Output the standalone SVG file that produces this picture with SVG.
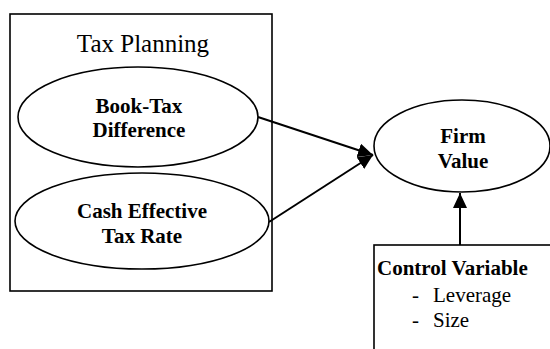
<svg xmlns="http://www.w3.org/2000/svg" width="550" height="349" viewBox="0 0 550 349">
<style>
.shape{fill:#fff;stroke:#000;stroke-width:1.6}
.t{font-family:"Liberation Serif","Times New Roman",serif;fill:#000}
.b{font-weight:bold;font-size:21px}
.r{font-size:21px}
.conn{stroke:#000;stroke-width:2;fill:none}
</style>
<defs>
<marker id="ah" viewBox="0 0 15 14" refX="15" refY="7" markerWidth="15" markerHeight="14" markerUnits="userSpaceOnUse" orient="auto">
<path d="M0,0 L15,7 L0,14 Z" fill="#000"/>
</marker>
</defs>
<rect width="550" height="349" fill="#fff"/>
<g id="tax-planning">
<rect class="shape" x="10" y="14" width="262" height="277"/>
<text class="t" x="143" y="52" font-size="25" text-anchor="middle">Tax Planning</text>
</g>
<g id="book-tax">
<ellipse class="shape" cx="138" cy="117" rx="120" ry="50"/>
<text class="t b" x="139" y="113" text-anchor="middle">Book-Tax</text>
<text class="t b" x="139" y="137" text-anchor="middle">Difference</text>
</g>
<g id="cash-etr">
<ellipse class="shape" cx="142" cy="221" rx="127" ry="48"/>
<text class="t b" x="142" y="218" text-anchor="middle">Cash Effective</text>
<text class="t b" x="142" y="243" text-anchor="middle">Tax Rate</text>
</g>
<g id="firm-value">
<ellipse class="shape" cx="462" cy="146" rx="88" ry="46"/>
<text class="t b" x="463" y="143" text-anchor="middle">Firm</text>
<text class="t b" x="463" y="168" text-anchor="middle">Value</text>
</g>
<g id="control-variable">
<rect class="shape" x="374" y="245" width="190" height="120"/>
<text class="t b" x="377" y="275">Control Variable</text>
<text class="t r" x="412" y="302">-</text>
<text class="t r" x="433" y="302">Leverage</text>
<text class="t r" x="412" y="327">-</text>
<text class="t r" x="433" y="327">Size</text>
</g>
<g id="connectors">
<line class="conn" x1="258" y1="117" x2="373" y2="155" marker-end="url(#ah)"/>
<line class="conn" x1="269" y1="222" x2="373" y2="155" marker-end="url(#ah)"/>
<line class="conn" x1="460" y1="245" x2="460" y2="193" marker-end="url(#ah)"/>
</g>
</svg>
